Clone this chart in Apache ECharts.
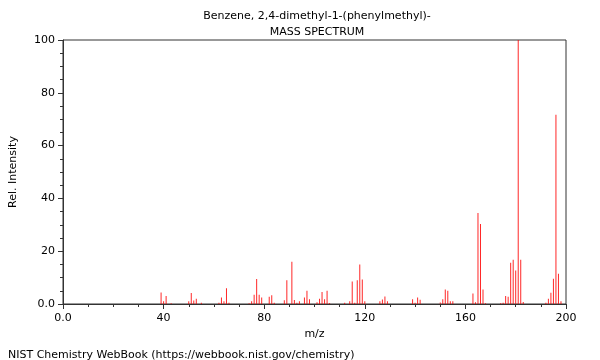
<!DOCTYPE html>
<html>
<head>
<meta charset="utf-8">
<script src="https://cdn.jsdelivr.net/npm/echarts@6/dist/echarts.min.js"></script>
<style>
html,body{margin:0;padding:0;background:#fff;}
#c{width:600px;height:360px;}
</style>
</head>
<body>
<div id="c"></div>
<script>
var titleLines = ["Benzene, 2,4-dimethyl-1-(phenylmethyl)-", "MASS SPECTRUM"];
var xAxisTitle = "m/z";
var yAxisTitle = "Rel. Intensity";
var footer = "NIST Chemistry WebBook (https://webbook.nist.gov/chemistry)";

var mz = [39,40,41,43,50,51,52,53,55,62,63,64,65,66,74,75,76,77,78,79,82,83,84,88,89,91,92,93,94,96,97,98,101,102,103,104,105,106,112,114,115,116,117,118,119,120,126,127,128,129,139,140,141,142,150,151,152,153,154,155,163,164,165,166,167,168,174,175,176,177,178,179,180,181,182,183,192,193,194,195,196,197,198];
var intensity = [4.4,1,3,0.3,1,4.2,1.3,2,0.5,0.5,2.5,1,6,0.5,0.3,1,3.5,9.5,3.5,2.5,2.7,3.3,0.5,1.4,9,16,1.5,0.5,1,2.5,5,1.8,0.7,2,4.5,1.8,5,0.4,0.5,1,8.5,0.5,9,15,9.3,1,1,1.7,2.8,1,1.8,0.5,2.5,1.6,0.6,1.8,5.5,5,1,1,4,0.7,34.5,30.3,5.5,0.3,0.3,0.5,3,2.7,15.6,16.8,12.7,100,16.8,0.8,0.5,2,4.3,9.6,71.7,11.5,1];

var seriesData = mz.map(function(m, i){ return [m, intensity[i]]; });

var chart = echarts.init(document.getElementById('c'), null, {renderer:'canvas'});
var font = 'DejaVu Sans';
chart.setOption({
  animation: false,
  backgroundColor: '#fff',
  title: [
    {text: titleLines[0], left: 312, top: 6, textAlign: 'center',
     textStyle: {fontFamily: font, fontSize: 11, fontWeight: 'normal', color: '#000'}},
    {text: titleLines[1], left: 312, top: 22, textAlign: 'center',
     textStyle: {fontFamily: font, fontSize: 11, fontWeight: 'normal', color: '#000'}},
    {text: footer, left: 3, top: 345,
     textStyle: {fontFamily: font, fontSize: 11, fontWeight: 'normal', color: '#000'}}
  ],
  grid: {left: 62, right: 34, top: 40, bottom: 56, show: true, borderColor: '#333', borderWidth: 1, backgroundColor: 'transparent'},
  xAxis: {
    type: 'value', min: 0, max: 200, interval: 40,
    name: xAxisTitle, nameLocation: 'middle', nameGap: 24,
    nameTextStyle: {fontFamily: font, fontSize: 11, color: '#000'},
    axisLine: {show: true, lineStyle: {color: '#333'}},
    axisTick: {show: true, length: 5, lineStyle: {color: '#333'}},
    minorTick: {show: true, splitNumber: 4, length: 3, lineStyle: {color: '#333'}},
    splitLine: {show: false},
    axisLabel: {fontFamily: font, fontSize: 11, color: '#000', margin: 9,
      formatter: function(v){ return v === 0 ? '0.0' : String(v); }}
  },
  yAxis: {
    type: 'value', min: 0, max: 100, interval: 20,
    name: yAxisTitle, nameLocation: 'middle', nameGap: 44,
    nameTextStyle: {fontFamily: font, fontSize: 11, color: '#000'},
    axisLine: {show: true, lineStyle: {color: '#333'}},
    axisTick: {show: true, length: 5, lineStyle: {color: '#333'}},
    minorTick: {show: true, splitNumber: 4, length: 3, lineStyle: {color: '#333'}},
    splitLine: {show: false},
    axisLabel: {fontFamily: font, fontSize: 11, color: '#000', margin: 8,
      formatter: function(v){ return v === 0 ? '0.0' : String(v); }}
  },
  series: [{
    type: 'bar',
    data: seriesData,
    barWidth: 1,
    barGap: '-100%',
    itemStyle: {color: '#ff0000', opacity: 0.85},
    silent: true
  }]
});
</script>
</body>
</html>
